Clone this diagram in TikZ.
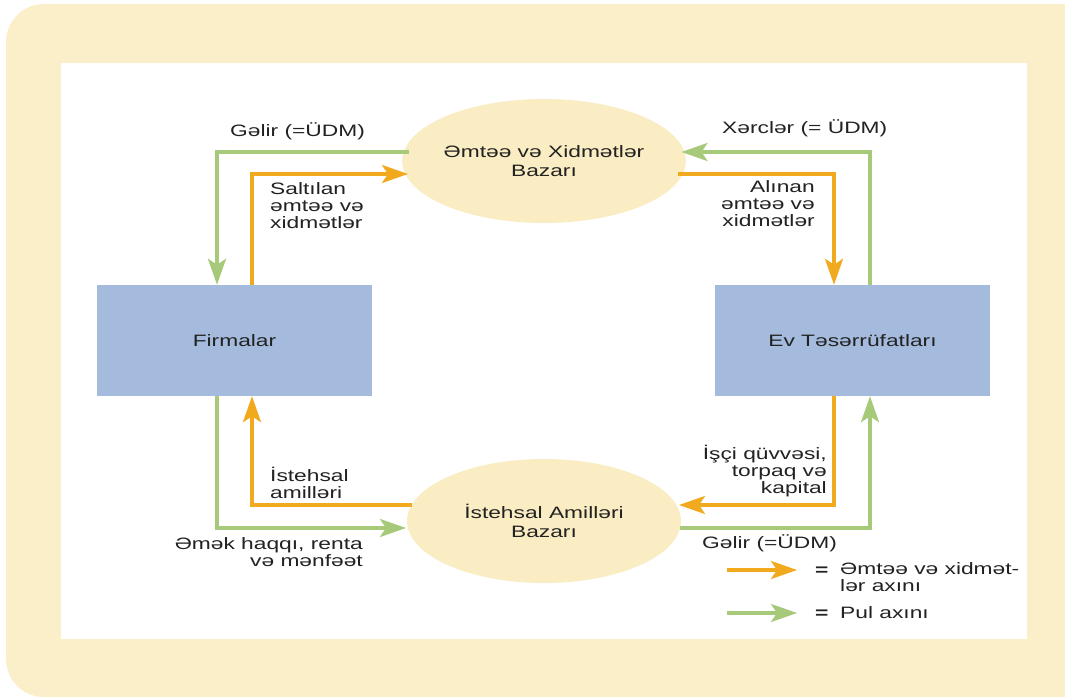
\documentclass[tikz,border=0pt]{standalone}
\usepackage{fontspec}
\setmainfont[FakeStretch=1.38]{Liberation Sans}
\usetikzlibrary{arrows.meta,shapes.geometric,calc}
\definecolor{cream}{RGB}{251,239,201}
\definecolor{ellcol}{RGB}{251,237,195}
\definecolor{boxblue}{RGB}{164,187,222}
\definecolor{orangeC}{RGB}{241,169,30}
\definecolor{greenC}{RGB}{167,201,122}
\definecolor{txt}{RGB}{34,34,34}
\begin{document}
\begin{tikzpicture}[x=1pt,y=-1pt,
  every node/.style={text=txt, font=\fontsize{16.5}{16.8}\selectfont, inner sep=0pt},
  market/.style={ellipse, fill=ellcol, minimum width=274pt, minimum height=124pt, align=center},
  agent/.style={rectangle, fill=boxblue, minimum width=275pt, minimum height=111pt},
  flow/.style={line width=3.2pt, -{Stealth[length=26pt,width=18pt,inset=6pt]}},
  goods/.style={flow, draw=orangeC},
  money/.style={flow, draw=greenC},
  lbl/.style={align=left, anchor=base west},
  lblr/.style={align=right, anchor=base east}]
\useasboundingbox (0,0) rectangle (1065,698);
\clip (0,0) rectangle (1065,698);
\fill[cream, rounded corners=38pt] (6,4) rectangle (1100,697);
\fill[white] (61,63) rectangle (1027,639);

\node[market] (gm) at (544,161) {Əmtəə və Xidmətlər\\[1.5pt]Bazarı};
\node[market] (fm) at (544,521) {İstehsal Amilləri\\[1.5pt]Bazarı};
\node[agent] (f) at (234.5,340.5) {Firmalar};
\node[agent] (h) at (852.5,340.5) {Ev Təsərrüfatları};

% top flows
\draw[money] ($(gm.center)+(-135.5,-9)$) -| ([xshift=-17.5pt]f.north);
\draw[goods] ([xshift=17.5pt]f.north) |- ($(gm.center)+(-136,13)$);
\draw[goods] ($(gm.center)+(134,13)$) -| ([xshift=-18.5pt]h.north);
\draw[money] ([xshift=17.5pt]h.north) |- ($(gm.center)+(137.5,-9)$);
% bottom flows
\draw[goods] ($(fm.center)+(-132.4,-16)$) -| ([xshift=17.5pt]f.south);
\draw[money] ([xshift=-17.5pt]f.south) |- ($(fm.center)+(-138,7)$);
\draw[goods] ([xshift=-18.5pt]h.south) |- ($(fm.center)+(135,-16)$);
\draw[money] ($(fm.center)+(136.1,7)$) -| ([xshift=17.5pt]h.south);

% labels (base anchor = last line)
\node[lbl] (l1) at (230,137) {Gəlir (=ÜDM)};
\node[lbl] (l2) at (722,133) {Xərclər (= ÜDM)};
\node[lbl] (l3) at (270,228) {Saltılan\\əmtəə və\\xidmətlər};
\node[lblr] (l4) at (815,226) {Alınan\\əmtəə və\\xidmətlər};
\node[lbl] (l5) at (270,498.5) {İstehsal\\amilləri};
\node[lblr] (l6) at (363,566.5) {Əmək haqqı, renta\\və mənfəət};
\node[lblr] (l7) at (827,493) {İşçi qüvvəsi,\\torpaq və\\kapital};
\node[lbl] (l8) at (702,548) {Gəlir (=ÜDM)};

% legend
\coordinate (a1) at (727,570);
\coordinate (a2) at (797,570);
\coordinate (b1) at (727,613);
\coordinate (b2) at (797,613);
\draw[goods] (a1) -- (a2);
\draw[money] (b1) -- (b2);
\node[lbl] (e1) at (815,575) {\textbf{=}};
\node[lbl] (t1) at (840,591.5) {Əmtəə və xidmət-\\lər axını};
\node[lbl] (e2) at (815,618) {\textbf{=}};
\node[lbl] (t2) at (840,618) {Pul axını};
\end{tikzpicture}
\end{document}
